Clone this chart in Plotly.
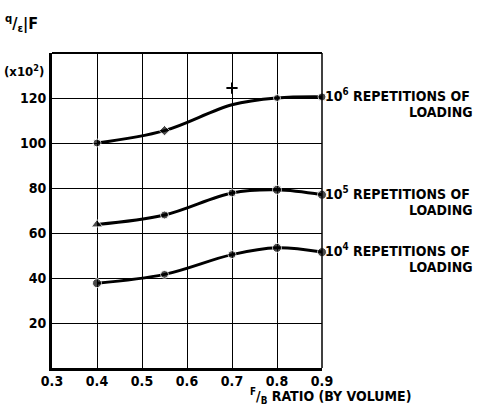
import plotly.graph_objects as go

fb_ratio = [0.4, 0.55, 0.7, 0.8, 0.9]
rep_1e6 = [100, 105.5, 117, 120, 120.5]
rep_1e5 = [63.8, 68, 77.8, 79.2, 77]
rep_1e4 = [37.7, 41.6, 50.4, 53.4, 51.5]
stray_x = [0.7]
stray_y = [124.4]
x_ticks = [0.3, 0.4, 0.5, 0.6, 0.7, 0.8, 0.9]
y_ticks = [20, 40, 60, 80, 100, 120]
series_labels = ["10<sup>6</sup> REPETITIONS OF", "10<sup>5</sup> REPETITIONS OF", "10<sup>4</sup> REPETITIONS OF"]

FONT = "DejaVu Sans Condensed"
fig = go.Figure()

markers_1e6 = dict(symbol=["circle", "diamond", "circle", "circle", "circle"], size=[8, 8, 0, 7, 8], color="black")
markers_1e5 = dict(symbol=["triangle-up", "circle", "circle", "circle", "circle"], size=[10, 8, 8, 9, 9], color="black")
markers_1e4 = dict(symbol="circle", size=[9, 8, 8, 9, 9], color="black")

for ys, mk in [(rep_1e6, markers_1e6), (rep_1e5, markers_1e5), (rep_1e4, markers_1e4)]:
    fig.add_trace(go.Scatter(x=fb_ratio, y=ys, mode="lines+markers",
                             line=dict(color="black", width=3, shape="spline", smoothing=1.0),
                             marker=mk, showlegend=False, cliponaxis=False))
fig.add_trace(go.Scatter(x=stray_x, y=stray_y, mode="markers",
                         marker=dict(symbol="cross-thin", size=8, line=dict(color="black", width=2)),
                         showlegend=False))

axis_font = dict(family=FONT, size=14, color="black", weight="bold")
fig.update_xaxes(range=[0.3, 0.9], tickvals=x_ticks, ticktext=[f"{v:.1f}" for v in x_ticks],
                 showgrid=True, gridcolor="black", gridwidth=1, showline=True, linecolor="black",
                 linewidth=3, ticks="", tickfont=axis_font, zeroline=False, ticklabelstandoff=-2)
fig.update_yaxes(range=[0, 140], tickvals=y_ticks + [140], ticktext=[str(v) for v in y_ticks] + [""],
                 showgrid=True, gridcolor="black", gridwidth=1, showline=True, linecolor="black",
                 linewidth=3, ticks="", tickfont=axis_font, zeroline=False, ticklabelstandoff=0)

# frame top and right
fig.add_shape(type="line", xref="paper", yref="paper", x0=0, x1=1, y0=1, y1=1, line=dict(color="black", width=2))
fig.add_shape(type="line", xref="paper", yref="paper", x0=1, x1=1, y0=0, y1=1, line=dict(color="black", width=1.5))

lab_font = dict(family=FONT, size=14, color="black", weight="bold")
for ys, lab in zip([rep_1e6, rep_1e5, rep_1e4], series_labels):
    fig.add_annotation(x=1.0, xref="paper", y=ys[-1], yref="y", text=lab, showarrow=False,
                       xanchor="left", yanchor="middle", xshift=1, yshift=2, font=lab_font)
    fig.add_annotation(x=1.567, xref="paper", y=ys[-1], yref="y", text="LOADING", showarrow=False,
                       xanchor="right", yanchor="middle", yshift=-15, font=lab_font)

fig.add_annotation(x=-0.185, xref="paper", y=1.0, yref="paper", text="(x10<sup>2</sup>)", showarrow=False,
                   xanchor="left", yanchor="top", yshift=-8, font=dict(family=FONT, size=13, color="black", weight="bold"))
fig.add_annotation(x=-0.18, xref="paper", y=1.0, yref="paper", text="<sup>q</sup>/<sub>ε</sub>|F", showarrow=False,
                   xanchor="left", yanchor="bottom", yshift=16, font=dict(family=FONT, size=16, color="black", weight="bold"))
fig.add_annotation(x=0.725, xref="paper", y=0, yref="paper", text="<sup>F</sup>/<sub>B</sub> RATIO (BY VOLUME)", showarrow=False,
                   xanchor="left", yanchor="top", yshift=-16, font=dict(family=FONT, size=14, color="black", weight="bold"))

fig.update_layout(width=484, height=410, margin=dict(l=52, r=162, t=53, b=42),
                  plot_bgcolor="white", paper_bgcolor="white", font=dict(family=FONT))
fig.write_html("out.html", post_script="document.body.style.margin='0';",
               config={"displayModeBar": False})
